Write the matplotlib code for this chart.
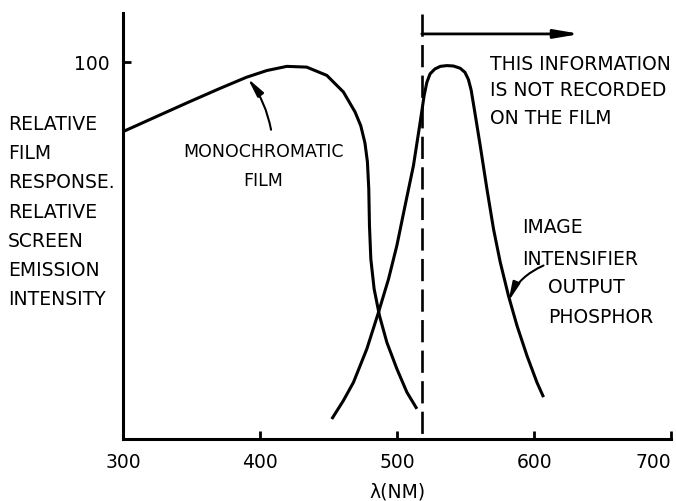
import matplotlib.pyplot as plt

# film response curve: wavelength (nm) and relative response
film_nm = [300, 322, 346.5, 371, 390, 405, 419.5, 434, 448.7, 460.8, 469.3, 473.5, 476.5,
           478.3, 479.3, 479.8, 480.8, 483.2, 487.1, 492.5, 499.8, 507.1, 514.4]
film_resp = [81.5, 85.1, 89.1, 93.0, 95.9, 97.7, 98.8, 98.6, 96.4, 92.0, 86.7, 83.0, 78.5,
             73.5, 66.3, 56.6, 47.7, 39.8, 32.7, 25.6, 18.6, 12.4, 8.0]

# image intensifier output phosphor: wavelength (nm) and relative emission
phos_nm = [452.3, 460.8, 468.1, 477.9, 486.4, 493.7, 499.8, 505.8, 511.9, 516.8, 519.7,
           521.7, 524, 527.5, 531.5, 536.3, 541, 546.0, 549.5, 552.0, 554, 556.5, 560.6,
           565.5, 570.3, 575.2, 581.2, 587.4, 594.7, 602.0, 606.8]
phos_em = [5.3, 10.2, 15.0, 23.9, 33.6, 42.4, 51.3, 61.9, 72.5, 84.0, 91.1,
           94.6, 96.8, 98.1, 98.8, 99.0, 98.9, 98.3, 97.2, 95.3, 92.5, 87.0, 77.8,
           66.3, 55.7, 46.9, 38.0, 30.1, 22.1, 15.0, 11.1]

cutoff_nm = 518
x_ticks = [300, 400, 500, 600, 700]
y_ticks = [100]

left_label = ['RELATIVE', 'FILM', 'RESPONSE.', 'RELATIVE', 'SCREEN', 'EMISSION', 'INTENSITY']

fs = 13.5
plt.rcParams['font.family'] = ['DejaVu Sans']
plt.rcParams['font.size'] = fs
plt.rcParams['lines.scale_dashes'] = False

fig = plt.figure(figsize=(6.76, 5.02), dpi=100)
ax = fig.add_axes([0.182, 0.1235, 0.811, 0.849])
ax.set_xlim(300, 700)
ax.set_ylim(0, 113)

for s in ['top', 'right']:
    ax.spines[s].set_visible(False)
for s in ['left', 'bottom']:
    ax.spines[s].set_linewidth(2.2)

ax.set_xticks(x_ticks)
ax.set_yticks(y_ticks)
ax.tick_params(direction='in', length=6, width=2, labelsize=fs)
ax.tick_params(axis='x', pad=9)
ax.tick_params(axis='y', pad=10)
# last label sits inside the figure edge
ax.get_xticklabels()[-1].set_horizontalalignment('right')

ax.plot(film_nm, film_resp, color='black', lw=2.2, solid_capstyle='butt')
ax.plot(phos_nm, phos_em, color='black', lw=2.2, solid_capstyle='butt')

# cut-off line with the arrow marking the unrecorded range
ax.plot([cutoff_nm, cutoff_nm], [112.7, 0], color='black', lw=1.9, dashes=(16, 6))
ax.annotate('', xy=(633.6, 107.4), xytext=(cutoff_nm, 107.4),
            arrowprops=dict(arrowstyle='-|>,head_length=1.0,head_width=0.17',
                            color='black', lw=2, mutation_scale=15,
                            shrinkA=0, shrinkB=0))
ax.text(567.9, 98.1, 'THIS INFORMATION', ha='left', va='baseline')
ax.text(567.9, 91.2, 'IS NOT RECORDED', ha='left', va='baseline')
ax.text(567.9, 83.8, 'ON THE FILM', ha='left', va='baseline')

# curve labels
ax.annotate('', xy=(391, 95.6), xytext=(408, 82),
            arrowprops=dict(arrowstyle='-|>,head_length=0.75,head_width=0.15',
                            color='black', lw=1.5, mutation_scale=15,
                            connectionstyle='arc3,rad=0.12', shrinkA=0, shrinkB=0))
ax.text(402.2, 75.1, 'MONOCHROMATIC', ha='center', va='baseline', fontsize=12.5)
ax.text(402.2, 67.4, 'FILM', ha='center', va='baseline', fontsize=12.5)

ax.annotate('', xy=(581.2, 36.5), xytext=(606.8, 46),
            arrowprops=dict(arrowstyle='-|>,head_length=0.75,head_width=0.15',
                            color='black', lw=1.5, mutation_scale=15,
                            connectionstyle='arc3,rad=0.2', shrinkA=0, shrinkB=0))
ax.text(591.2, 54.9, 'IMAGE', ha='left', va='baseline')
ax.text(591.2, 46.4, 'INTENSIFIER', ha='left', va='baseline')
ax.text(610.2, 39.0, 'OUTPUT', ha='left', va='baseline')
ax.text(610.2, 31.0, 'PHOSPHOR', ha='left', va='baseline')

# y axis title, one word per line
for i, word in enumerate(left_label):
    fig.text(8 / 676, 1 - (130 + 29.2 * i) / 502, word, ha='left', va='baseline')

fig.text(397 / 676, 1 - 492 / 502, 'λ(NM)', ha='center', va='center')

fig.savefig('out.png', dpi=100, facecolor='white')
